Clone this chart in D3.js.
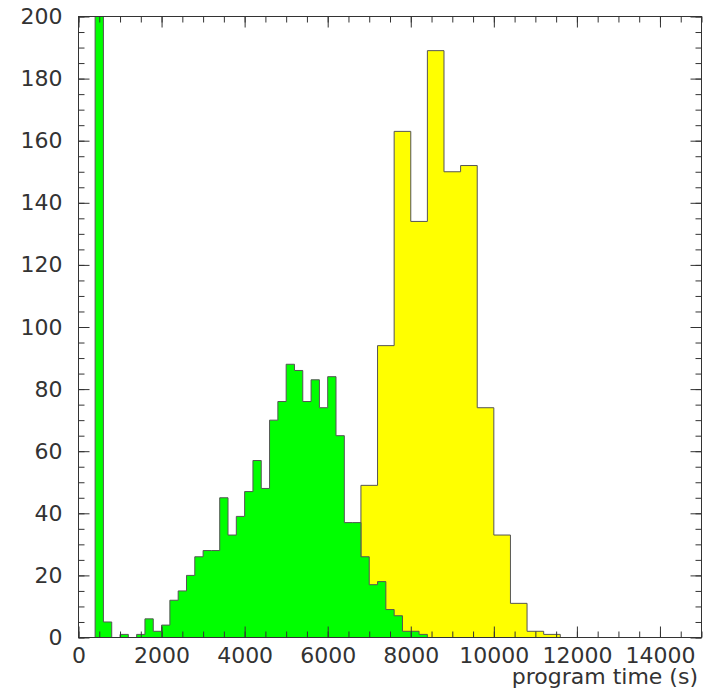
<!DOCTYPE html>
<html>
<head>
<meta charset="utf-8">
<script src="https://cdn.jsdelivr.net/npm/d3@7"></script>
<style>
  body { margin: 0; background: #fff; }
  text { font-family: "DejaVu Sans", sans-serif; fill: #333; }
</style>
</head>
<body>
<svg></svg>
<script>
// histogram data (counts per bin)
var greenStart = 400, greenWidth = 200;
var greenCounts = [260, 5, 0, 1, 0, 1, 6, 2, 4, 12, 15, 20, 26, 28, 28, 45, 33, 39, 47, 57,
                   48, 70, 76, 88, 86, 76, 83, 74, 84, 65, 37, 37, 26, 17, 18, 9, 7, 2, 2, 1];
var yellowStart = 6800, yellowWidth = 400;
var yellowCounts = [49, 94, 163, 134, 189, 150, 152, 74, 33, 11, 2, 1];

var xTicks = [0, 2000, 4000, 6000, 8000, 10000, 12000, 14000];
var yTicks = [0, 20, 40, 60, 80, 100, 120, 140, 160, 180, 200];
var xTitle = "program time (s)";

var svgwidth = 711, svgheight = 692;
var pLeft = 78.5, pRight = 701.5, pTop = 16.5, pBottom = 637.5;

var svg = d3.select("svg")
        .attr("width", svgwidth)
        .attr("height", svgheight);

var x = d3.scaleLinear().domain([0, 15000]).range([pLeft, pRight]);
var y = d3.scaleLinear().domain([0, 200]).range([pBottom, pTop]);

svg.append("clipPath").attr("id", "plot")
        .append("rect")
        .attr("x", pLeft).attr("y", pTop)
        .attr("width", pRight - pLeft).attr("height", pBottom - pTop);

// step outline of a histogram
function histPoints(start, width, counts) {
        var pts = [[start, 0]];
        counts.forEach(function (c, i) {
                pts.push([start + i * width, c]);
                pts.push([start + (i + 1) * width, c]);
        });
        pts.push([start + counts.length * width, 0]);
        return pts;
}

var line = d3.line()
        .x(function (d) { return x(d[0]); })
        .y(function (d) { return y(d[1]); });

var hists = svg.append("g").attr("clip-path", "url(#plot)");

hists.append("path")
        .attr("d", line(histPoints(yellowStart, yellowWidth, yellowCounts)))
        .attr("fill", "#ffff00")
        .attr("stroke", "#555")
        .attr("stroke-width", 1);

hists.append("path")
        .attr("d", line(histPoints(greenStart, greenWidth, greenCounts)))
        .attr("fill", "#00ff00")
        .attr("stroke", "#555")
        .attr("stroke-width", 1);

// axes, ticks pointing inward on all four sides
var major = 11, minor = 6;
var xMinor = d3.range(0, 15001, 500), yMinor = d3.range(0, 201, 5);

function addAxis(axis, tx, ty) {
        var g = svg.append("g").attr("transform", "translate(" + tx + "," + ty + ")").call(axis);
        g.select(".domain").remove();
        g.selectAll("line").attr("stroke", "#333");
        g.selectAll("text").attr("fill", "#333").style("font-size", "22px")
                .style("font-family", "'DejaVu Sans', sans-serif");
        return g;
}

addAxis(d3.axisBottom(x).tickValues(xMinor).tickSize(-minor).tickFormat(""), 0, pBottom);
addAxis(d3.axisBottom(x).tickValues(xTicks).tickSize(-major).tickPadding(10).tickFormat(d3.format("d")), 0, pBottom);
addAxis(d3.axisTop(x).tickValues(xMinor).tickSize(-minor).tickFormat(""), 0, pTop);
addAxis(d3.axisTop(x).tickValues(xTicks).tickSize(-major).tickFormat(""), 0, pTop);

addAxis(d3.axisLeft(y).tickValues(yMinor).tickSize(-minor).tickFormat(""), pLeft, 0);
addAxis(d3.axisLeft(y).tickValues(yTicks).tickSize(-major).tickPadding(16).tickFormat(d3.format("d")), pLeft, 0);
addAxis(d3.axisRight(y).tickValues(yMinor).tickSize(-minor).tickFormat(""), pRight, 0);
addAxis(d3.axisRight(y).tickValues(yTicks).tickSize(-major).tickFormat(""), pRight, 0);

svg.append("rect")
        .attr("x", pLeft).attr("y", pTop)
        .attr("width", pRight - pLeft).attr("height", pBottom - pTop)
        .attr("fill", "none")
        .attr("stroke", "#333")
        .attr("stroke-width", 1);

svg.append("text")
        .attr("x", 698)
        .attr("y", 684)
        .attr("text-anchor", "end")
        .style("font-size", "22px")
        .text(xTitle);
</script>
</body>
</html>
